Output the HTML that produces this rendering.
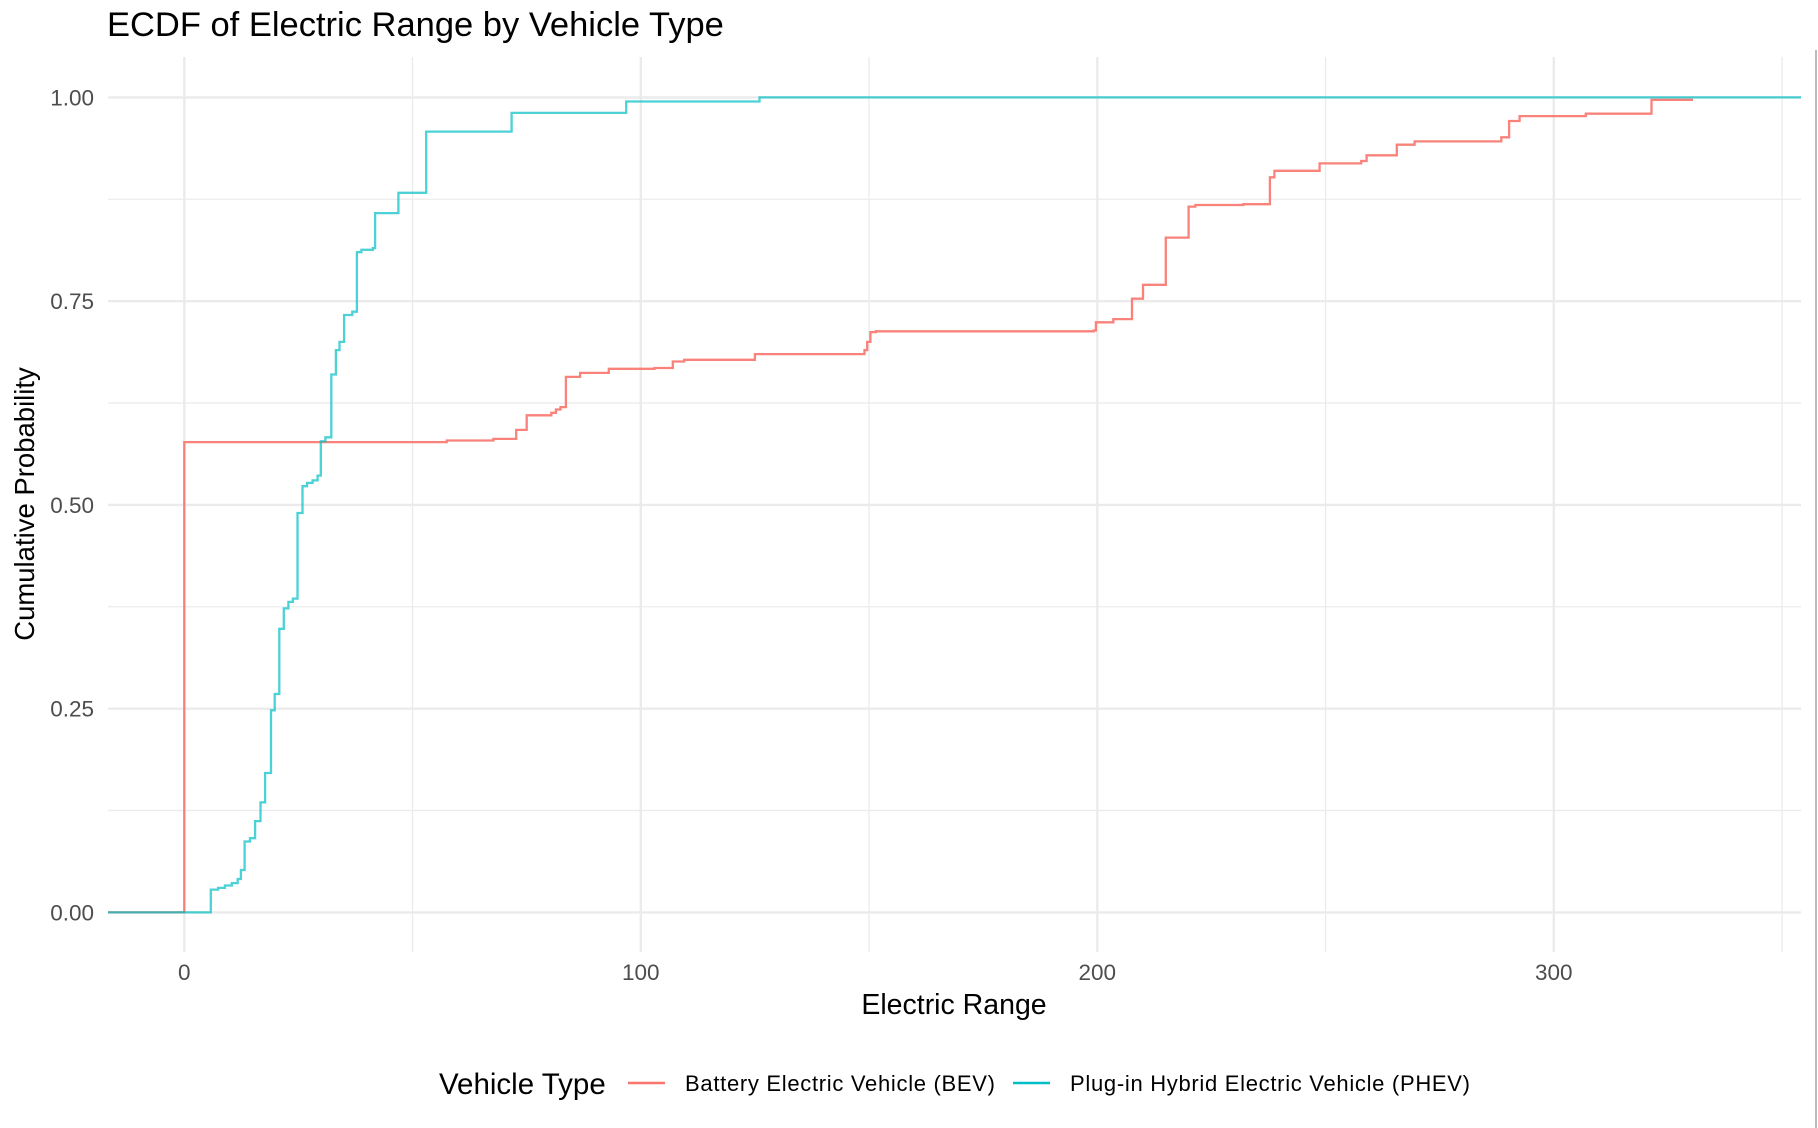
<!DOCTYPE html>
<html><head><meta charset="utf-8"><style>
html,body{margin:0;padding:0;background:#fff;}
svg{display:block;font-family:"Liberation Sans",sans-serif;}
</style></head><body>
<svg id="chart" width="1818" height="1128" viewBox="0 0 1818 1128">
<rect x="0" y="0" width="1818" height="1128" fill="#fff"/>
<line x1="1816" y1="50" x2="1816" y2="1128" stroke="#bbb" stroke-width="2"/>
<g id="grid"></g>
<g id="series"></g>
<g id="axes"></g>
<text x="107" y="36" font-size="34.5" fill="#000">ECDF of Electric Range by Vehicle Type</text>
<text transform="translate(34,504) rotate(-90)" text-anchor="middle" font-size="27.5" fill="#000">Cumulative Probability</text>
<text x="954" y="1014" text-anchor="middle" font-size="28.5" fill="#000">Electric Range</text>
<g>
<text x="439" y="1094" font-size="29.5" fill="#000">Vehicle Type</text>
<g>
<line x1="628" y1="1083" x2="665" y2="1083" stroke="#F8766D" stroke-width="2.5"/>
<text x="685" y="1091" font-size="22" textLength="310" fill="#000">Battery Electric Vehicle (BEV)</text>
</g>
<g>
<line x1="1013" y1="1083" x2="1050" y2="1083" stroke="#00BFC4" stroke-width="2.5"/>
<text x="1070" y="1091" font-size="22" textLength="400" fill="#000">Plug-in Hybrid Electric Vehicle (PHEV)</text>
</g>
</g>
</svg>
<script>
const xTicks = [0, 100, 200, 300];
const xMinor = [50, 150, 250, 350];
const yTicks = [0, 0.25, 0.5, 0.75, 1.0];
const yTickLabels = ["0.00", "0.25", "0.50", "0.75", "1.00"];
const yMinor = [0.125, 0.375, 0.625, 0.875];
const bevX = [0, 57.5, 67.7, 72.7, 75, 80.4, 81.4, 82.4, 83.6, 86.7, 93, 103, 107, 109.5, 125, 149, 149.6, 150.3, 151.5, 199.2, 199.7, 203.5, 207.6, 210, 215, 220, 221.5, 232, 237.8, 238.8, 248.7, 257.8, 259, 265.6, 269.5, 288.5, 290.2, 292.5, 307, 321.4];
const bevP = [0.577, 0.579, 0.581, 0.592, 0.61, 0.613, 0.617, 0.62, 0.657, 0.662, 0.667, 0.668, 0.676, 0.678, 0.685, 0.69, 0.70, 0.712, 0.713, 0.714, 0.724, 0.728, 0.753, 0.77, 0.828, 0.866, 0.868, 0.869, 0.902, 0.91, 0.919, 0.922, 0.929, 0.942, 0.946, 0.951, 0.971, 0.977, 0.98, 0.997];
const bevEnd = 330.5;
const phevX = [5.8, 7.4, 8.9, 10.4, 11.7, 12.4, 13.2, 14.4, 15.5, 16.7, 17.7, 19, 19.8, 20.8, 21.8, 22.8, 23.8, 24.8, 25.9, 26.9, 28.1, 29.2, 29.9, 30.9, 32.2, 33.2, 34, 35, 36.8, 37.8, 38.8, 41.3, 41.8, 46.9, 53, 71.7, 96.8, 126];
const phevP = [0.028, 0.030, 0.033, 0.036, 0.041, 0.052, 0.087, 0.091, 0.112, 0.135, 0.171, 0.248, 0.268, 0.348, 0.373, 0.381, 0.385, 0.49, 0.523, 0.527, 0.53, 0.536, 0.578, 0.583, 0.66, 0.69, 0.70, 0.733, 0.737, 0.81, 0.813, 0.815, 0.858, 0.883, 0.958, 0.981, 0.995, 1.0];

const NS = "http://www.w3.org/2000/svg";
const PL = 108, PR = 1801, PT = 57, PB = 952;
function sx(v){ return 184.3 + 4.565 * v; }
function sy(p){ return 912.4 - 815 * p; }
function mk(tag, attrs, parent){
  const el = document.createElementNS(NS, tag);
  for (const k in attrs) el.setAttribute(k, attrs[k]);
  parent.appendChild(el);
  return el;
}
const grid = document.getElementById('grid');
const axes = document.getElementById('axes');
const series = document.getElementById('series');
yMinor.forEach(v => {
  const l = mk('line', {x1:PL, x2:PR, y1:sy(v), y2:sy(v), stroke:'#ebebeb', 'stroke-width':1.3}, grid);
  
  
});
xMinor.forEach(v => {
  const l = mk('line', {x1:sx(v), x2:sx(v), y1:PT, y2:PB, stroke:'#ebebeb', 'stroke-width':1.3}, grid);
  
  
});
yTicks.forEach((v, i) => {
  const l = mk('line', {x1:PL, x2:PR, y1:sy(v), y2:sy(v), stroke:'#ebebeb', 'stroke-width':2.4}, grid);
  
  
  const t = mk('text', {x:94, y:sy(v)+8, 'text-anchor':'end', 'font-size':22.5, fill:'#4d4d4d'}, axes);
  t.textContent = yTickLabels[i];
  
  
});
xTicks.forEach(v => {
  const l = mk('line', {x1:sx(v), x2:sx(v), y1:PT, y2:PB, stroke:'#ebebeb', 'stroke-width':2.4}, grid);
  
  
  const t = mk('text', {x:sx(v), y:980, 'text-anchor':'middle', 'font-size':22.5, fill:'#4d4d4d'}, axes);
  t.textContent = String(v);
  
  
});
function stepPath(xs, ps, endX){
  let d = 'M' + PL + ',' + sy(0);
  for (let i = 0; i < xs.length; i++){
    d += ' H' + sx(xs[i]).toFixed(1) + ' V' + sy(ps[i]).toFixed(1);
  }
  d += ' H' + endX.toFixed(1);
  return d;
}
const bev = mk('path', {d: stepPath(bevX, bevP, sx(bevEnd)), fill:'none', stroke:'#F8766D', 'stroke-opacity':0.9, 'stroke-width':2.3}, series);


const phev = mk('path', {d: stepPath(phevX, phevP, PR), fill:'none', stroke:'#00BFC4', 'stroke-opacity':0.7, 'stroke-width':2.3}, series);


</script>
</body></html>
